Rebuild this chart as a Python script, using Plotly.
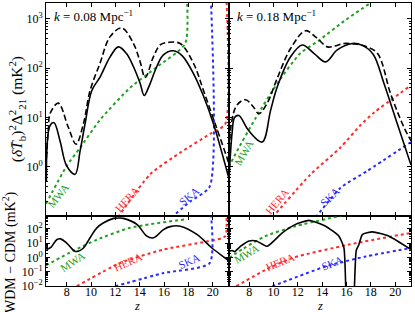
import plotly.graph_objects as go
from plotly.subplots import make_subplots

# ---------------- top-left panel (k = 0.08 Mpc^-1) ----------------
z_tl_solid = [6.33, 6.63, 6.96, 7.45, 8.0, 8.69, 9.1, 9.51, 10.06, 10.74, 11.57, 12.25, 12.9, 13.49,
              14.04, 14.37, 14.8, 15.4, 15.95, 16.78, 17.5, 18.42, 19.25, 20.07, 21.17, 21.3]
p_tl_solid = [0.5, 6.9, 7.9, 3.4, 1.05, 0.71, 2.1, 7.5, 35, 66, 170, 270, 200, 107,
              49, 28, 45, 107, 186, 225, 178, 78, 27, 7.4, 0.83, 0.63]
z_tl_dash = [6.33, 6.5, 6.63, 7.31, 8.14, 8.77, 9.37, 9.92, 10.74, 11.57, 12.53, 13.49, 14.04,
             14.45, 15.13, 15.68, 16.37, 17.33, 18.42, 19.25, 20.35, 21.17, 21.3]
p_tl_dash = [1.5, 6, 12, 19.6, 6.3, 2.9, 7.4, 35, 126, 436, 650, 316, 134,
             65, 170, 295, 333, 316, 126, 35, 5.9, 1.55, 1.2]
z_tl_mwa = [6.3, 8.0, 9.1, 10.74, 13.2, 15.5, 17.74, 17.74]
n_tl_mwa = [0.18, 1.05, 2.45, 9, 40, 110, 316, 1e4]
z_tl_hera = [12.2, 14.86, 17.33, 19.8, 21.03, 21.03]
n_tl_hera = [0.095, 0.71, 1.95, 4.7, 7.4, 1e4]
z_tl_ska = [16.6, 18.15, 19.75, 19.75]
n_tl_ska = [0.095, 0.2, 0.4, 1e4]

# ---------------- top-right panel (k = 0.18 Mpc^-1) ----------------
z_tr_solid = [6.32, 6.6, 6.8, 7.15, 7.97, 9.07, 9.76, 10.31, 11.4, 12.37, 13.32, 14.28, 15.24,
              16.47, 17.3, 18.2, 19.08, 20.18, 21.3]
p_tr_solid = [0.44, 5, 10, 11, 5.4, 3.2, 14, 42, 170, 295, 200, 134, 234,
              316, 290, 190, 49, 7.4, 1.1]
z_tr_dash = [6.32, 6.55, 7.0, 7.7, 8.3, 8.8, 9.5, 10.3, 11.4, 12.64, 13.5, 14.43, 15.0, 15.79,
             16.6, 17.5, 18.54, 19.63, 20.73, 21.3]
p_tr_dash = [1.0, 8, 18, 23, 17, 12, 20, 62, 250, 575, 420, 270, 280, 316,
             310, 280, 200, 30, 6.3, 3.4]
z_tr_mwa = [6.32, 7.0, 8.5, 10.3, 12.2, 13.7, 15.8, 17.85]
n_tr_mwa = [1.0, 2.1, 9.5, 49, 200, 360, 900, 2000]
z_tr_hera = [9.9, 13.05, 15.52, 17.16, 18.26, 21.3]
n_tr_hera = [0.095, 0.71, 2.5, 7.1, 12.6, 45]
z_tr_ska = [13.46, 15.52, 17.7, 21.3]
n_tr_ska = [0.095, 0.38, 0.83, 3.2]

# ---------------- bottom-left panel (WDM - CDM) ----------------
z_bl_diff = [6.33, 6.7, 7.18, 7.5, 8.0, 8.69, 9.0, 9.38, 10.0, 10.48, 11.0, 11.85, 12.4, 12.67,
             13.77, 14.59, 15.13, 15.96, 16.5, 17.33, 18.7, 19.94, 21.03, 21.3]
d_bl_diff = [3.5, 5, 17, 19.5, 10, 2.6, 2.8, 4.5, 30, 115, 250, 525, 560, 525,
             200, 30, 23, 87, 140, 150, 40, 4.5, 0.9, 0.6]
z_bl_mwa = [6.3, 8.55, 10.48, 13.2, 17.74]
n_bl_mwa = [0.27, 2.9, 17, 115, 450]
z_bl_hera = [8.82, 12.39, 15.96, 19.53, 21.03, 21.03]
n_bl_hera = [0.0095, 0.4, 3.5, 13, 30, 1e4]
z_bl_ska = [11.98, 15.96, 19.75, 19.75]
n_bl_ska = [0.0095, 0.08, 0.4, 1e4]

# ---------------- bottom-right panel (WDM - CDM) ----------------
z_br_diff = [6.33, 6.6, 6.8, 7.3, 8.0, 8.6, 9.48, 10.72, 11.81, 12.91, 14.28, 15.38, 15.79,
             15.98, 16.3, 16.6, 16.8, 17.02, 17.3, 18.13, 19.49, 21.3]
d_br_diff = [2.6, 3, 2.5, 6, 14, 14, 5.9, 51, 200, 380, 150, 30, 4.5,
             1e-3, 1e-5, 1e-3, 3, 7.8, 39, 60, 30, 3.5]
z_br_mwa = [6.33, 7.5, 9.32, 11.81, 15.79]
n_br_mwa = [0.9, 4, 30, 150, 890]
z_br_hera = [6.93, 9.35, 11.54, 16.2, 21.3]
n_br_hera = [0.0095, 0.135, 0.9, 7.8, 51]
z_br_ska = [9.9, 14.28, 17.58, 21.3]
n_br_ska = [0.0095, 0.23, 1.15, 4.5]

k_labels = ["<i>k</i> = 0.08 Mpc<sup>−1</sup>", "<i>k</i> = 0.18 Mpc<sup>−1</sup>"]
x_ticks = [8, 10, 12, 14, 16, 18, 20]
top_ticks = [1, 10, 100, 1000]
top_ticktext = ["10<sup>0</sup>", "10<sup>1</sup>", "10<sup>2</sup>", "10<sup>3</sup>"]
bot_ticks = [0.01, 0.1, 1, 10, 100]
bot_ticktext = ["10<sup>−2</sup>", "10<sup>−1</sup>", "10<sup>0</sup>", "10<sup>1</sup>", "10<sup>2</sup>"]

GREEN = "#22a022"
RED = "#ff2a2a"
BLUE = "#2a2aff"
FONT = "Liberation Serif"

fig = make_subplots(rows=2, cols=2, row_heights=[0.754, 0.246],
                    vertical_spacing=0, horizontal_spacing=0)


def spl(x, y, color, dash, width, row, col, smooth=1.0):
    fig.add_trace(go.Scatter(x=x, y=y, mode="lines",
                             line=dict(color=color, dash=dash, width=width,
                                       shape="spline", smoothing=smooth),
                             showlegend=False, hoverinfo="skip"), row=row, col=col)


spl(z_tl_mwa, n_tl_mwa, GREEN, "dot", 2, 1, 1, 0.6)
spl(z_tl_hera, n_tl_hera, RED, "dot", 2, 1, 1, 0.6)
spl(z_tl_ska, n_tl_ska, BLUE, "dot", 2, 1, 1, 0.6)
spl(z_tl_dash, p_tl_dash, "black", "6px,3px", 1.6, 1, 1)
spl(z_tl_solid, p_tl_solid, "black", "solid", 1.6, 1, 1)
spl(z_tr_mwa, n_tr_mwa, GREEN, "dot", 2, 1, 2, 0.6)
spl(z_tr_hera, n_tr_hera, RED, "dot", 2, 1, 2, 0.6)
spl(z_tr_ska, n_tr_ska, BLUE, "dot", 2, 1, 2, 0.6)
spl(z_tr_dash, p_tr_dash, "black", "6px,3px", 1.6, 1, 2)
spl(z_tr_solid, p_tr_solid, "black", "solid", 1.6, 1, 2)
spl(z_bl_mwa, n_bl_mwa, GREEN, "dot", 2, 2, 1, 0.6)
spl(z_bl_hera, n_bl_hera, RED, "dot", 2, 2, 1, 0.6)
spl(z_bl_ska, n_bl_ska, BLUE, "dot", 2, 2, 1, 0.6)
spl(z_bl_diff, d_bl_diff, "black", "solid", 1.6, 2, 1)
spl(z_br_mwa, n_br_mwa, GREEN, "dot", 2, 2, 2, 0.6)
spl(z_br_hera, n_br_hera, RED, "dot", 2, 2, 2, 0.6)
spl(z_br_ska, n_br_ska, BLUE, "dot", 2, 2, 2, 0.6)
spl(z_br_diff, d_br_diff, "black", "solid", 1.6, 2, 2, 0.5)

axis_common = dict(showline=True, linecolor="black", linewidth=1, mirror="ticks",
                   ticks="inside", ticklen=4, tickwidth=1, tickcolor="black",
                   showgrid=False, zeroline=False,
                   tickfont=dict(family=FONT, size=12, color="black"))

top_minor = [m * 10 ** e for e in (-1, 0, 1, 2, 3) for m in range(2, 10)]
bot_minor = [m * 10 ** e for e in (-2, -1, 0, 1, 2) for m in range(2, 10)]

for r in (1, 2):
    for c in (1, 2):
        fig.update_xaxes(range=[6.3, 21.3], tickmode="array", tickvals=x_ticks,
                         showticklabels=(r == 2), row=r, col=c, **axis_common)
        if r == 1:
            fig.update_yaxes(type="log", range=[-1.0, 3.32], tickmode="array",
                             tickvals=top_ticks, ticktext=top_ticktext,
                             showticklabels=(c == 1),
                             minor=dict(tickmode="array", tickvals=top_minor, ticks="inside",
                                        ticklen=2, tickcolor="black"),
                             row=r, col=c, **axis_common)
        else:
            fig.update_yaxes(type="log", range=[-2.0, 2.86], tickmode="array",
                             tickvals=bot_ticks, ticktext=bot_ticktext,
                             showticklabels=(c == 1),
                             minor=dict(tickmode="array", tickvals=bot_minor, ticks="inside",
                                        ticklen=2, tickcolor="black"),
                             row=r, col=c, **axis_common)

# pull bottom x tick labels a little closer to the axis
fig.update_xaxes(ticklabelstandoff=-5, row=2, col=1)
fig.update_xaxes(ticklabelstandoff=-5, row=2, col=2)

ann = []
ann.append(dict(text=k_labels[0], x=6.8, y=3.05, xref="x", yref="y", showarrow=False,
                xanchor="left", yanchor="middle", font=dict(family=FONT, size=13, color="black")))
ann.append(dict(text=k_labels[1], x=6.85, y=3.05, xref="x2", yref="y2", showarrow=False,
                xanchor="left", yanchor="middle", font=dict(family=FONT, size=13, color="black")))

inst = [
    ("MWA", GREEN, 7.29, -0.59, -52, "x", "y"),
    ("HERA", RED, 12.97, -0.65, -48, "x", "y"),
    ("SKA", BLUE, 18.07, -0.59, -40, "x", "y"),
    ("MWA", GREEN, 7.53, 0.29, -60, "x2", "y2"),
    ("HERA", RED, 10.31, -0.69, -50, "x2", "y2"),
    ("SKA", BLUE, 14.61, -0.61, -45, "x2", "y2"),
    ("MWA", GREEN, 8.44, -0.31, -33, "x3", "y3"),
    ("HERA", RED, 13.05, -0.31, -24, "x3", "y3"),
    ("SKA", BLUE, 18.07, -0.24, -24, "x3", "y3"),
    ("MWA", GREEN, 7.76, 0.25, -30, "x4", "y4"),
    ("HERA", RED, 10.5, -0.29, -22, "x4", "y4"),
    ("SKA", BLUE, 14.78, -0.36, -22, "x4", "y4"),
]
for t, col, xx, yy, ang, xr, yr in inst:
    ann.append(dict(text=t, x=xx, y=yy, xref=xr, yref=yr, showarrow=False, textangle=ang,
                    font=dict(family=FONT, size=11, color=col)))

ann.append(dict(text="(<i>δT̄</i><sub>b</sub>)<sup>2</sup>Δ<sup>2</sup><sub>21</sub> (mK<sup>2</sup>)",
                x=0, y=0.625, xref="paper", yref="paper", xshift=-29, textangle=-90,
                xanchor="center", yanchor="middle",
                showarrow=False, font=dict(family=FONT, size=15.5, color="black")))
ann.append(dict(text="WDM − CDM (mK<sup>2</sup>)",
                x=0, y=0.12, xref="paper", yref="paper", xshift=-37, textangle=-90,
                xanchor="center", yanchor="middle",
                showarrow=False, font=dict(family=FONT, size=14, color="black")))
ann.append(dict(text="<i>z</i>", x=0.25, y=0, xref="paper", yref="paper", yshift=-19.5,
                xanchor="center", yanchor="middle", borderpad=0,
                showarrow=False, font=dict(family=FONT, size=12.5, color="black")))
ann.append(dict(text="<i>z</i>", x=0.75, y=0, xref="paper", yref="paper", yshift=-19.5,
                xanchor="center", yanchor="middle", borderpad=0,
                showarrow=False, font=dict(family=FONT, size=12.5, color="black")))

fig.update_layout(width=415, height=312, margin=dict(l=46, r=4, t=3, b=26),
                  paper_bgcolor="white", plot_bgcolor="white", annotations=ann,
                  font=dict(family=FONT, size=13, color="black"))

fig.write_html("out.html", config={"displayModeBar": False},
               post_script="document.body.style.margin='0';document.body.style.padding='0';")
